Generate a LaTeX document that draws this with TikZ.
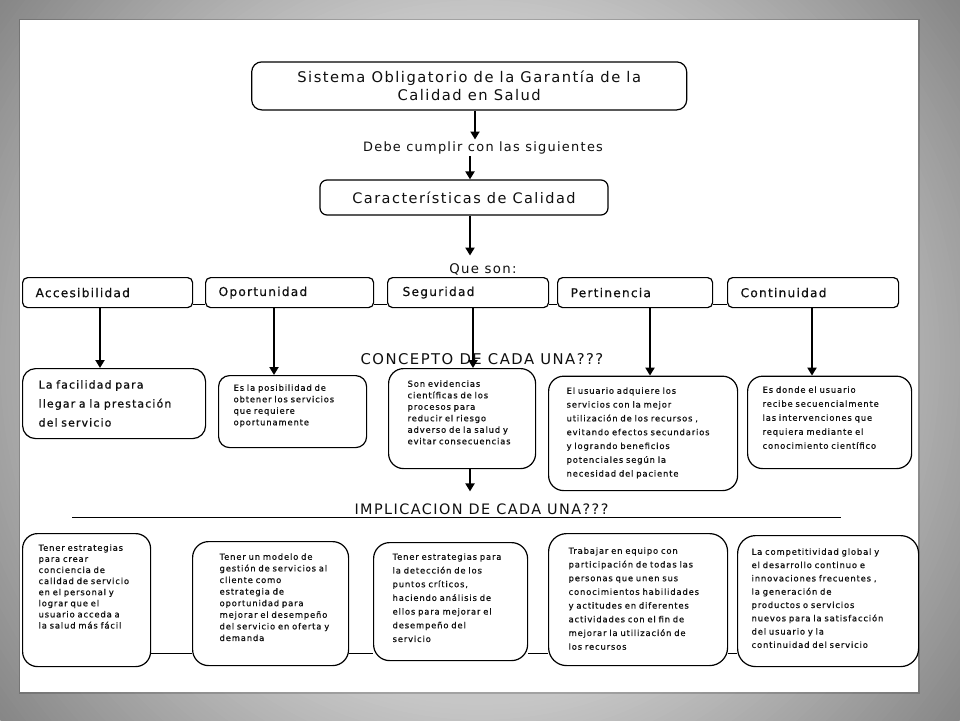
\documentclass[tikz,border=0pt]{standalone}
\usepackage{fontspec}
\setmainfont{DejaVu Sans}[LetterSpace=10]
\newfontfamily\semib{DejaVu Sans}[LetterSpace=10, FakeBold=0.6]
\usetikzlibrary{arrows.meta,backgrounds,calc}
\definecolor{bgD}{RGB}{134,134,134}
\definecolor{ink}{RGB}{15,15,15}
\newcommand{\bxt}[4]{\vbox to #1{\leftskip=#3\relax\vskip#2\relax\noindent #4\par\vfill}}
\tikzset{
  bx/.style={draw=black, line width=1.2pt, fill=white, rounded corners=#1, text=ink},
  bx/.default=12pt,
  chbox/.style={bx=5pt, minimum height=30pt, inner ysep=0pt, align=left, anchor=north west, font=\semib\fontsize{12.2}{14}\selectfont},
  cbox/.style={bx=13pt, inner sep=0pt, align=left, anchor=north west, font=\semib\fontsize{8.4}{11.5}\selectfont},
  lbl/.style={inner sep=2pt, text=ink},
  arr/.style={line width=2.4pt, draw=black, -{Triangle[width=9pt,length=8pt]}},
  link/.style={draw=black, line width=1pt}
}
\begin{document}
\begin{tikzpicture}[x=1pt,y=-1pt]
\useasboundingbox (0,0) rectangle (960,720);
\begin{pgfonlayer}{background}
\begin{scope}
\clip (0,0) rectangle (960,720);
\fill[bgD] (0,0) rectangle (960,720);
\foreach \r in {600,595,...,330}{
  \pgfmathtruncatemacro{\g}{min(198,195-(\r-360)*0.25)}
  \fill[color={rgb,255:red,\g;green,\g;blue,\g}] (480,360) circle (\r);
}
\end{scope}
\draw[black, opacity=0.18, line width=3pt] (20,20) rectangle (918,692);
\fill[white] (20,20) rectangle (918,692);
\end{pgfonlayer}

% top part
\node[bx=10pt, minimum width=435pt, minimum height=48pt, align=center, inner sep=0pt,
      font=\fontsize{14.7}{18.3}\selectfont] (top) at (469.2,85.9)
  {Sistema Obligatorio de la Garantía de la\\Calidad en Salud};
\node[lbl, anchor=base, font=\fontsize{12.9}{15}\selectfont] (debe) at (483,151.5) {Debe cumplir con las siguientes};
\node[bx=7pt, minimum width=288pt, minimum height=35pt, inner sep=0pt,
      font=\fontsize{14.5}{17}\selectfont] (car) at (464,197.5) {Características de Calidad};
\node[lbl, anchor=base, font=\fontsize{13.3}{15}\selectfont] (queson) at (483,273.6) {Que son:};

% characteristics
\node[chbox, text width=144pt, inner xsep=13pt] (acc) at (22,277) {Accesibilidad};
\node[chbox, text width=142pt, inner xsep=13pt] (opo) at (205,277) {Oportunidad};
\node[chbox, text width=131pt, inner xsep=15pt] (seg) at (387,277) {Seguridad};
\node[chbox, text width=129pt, inner xsep=13pt] (per) at (557,277) {Pertinencia};
\node[chbox, text width=145pt, inner xsep=13pt] (con) at (727,277) {Continuidad};

\node[lbl, anchor=base, font=\fontsize{14.8}{16}\selectfont] (conc) at (482,364.4) {CONCEPTO DE CADA UNA???};

% concept boxes
\node[cbox, text width=183pt, font=\semib\fontsize{11}{19}\selectfont] (c1) at (22,368)
  {\bxt{70pt}{11.6pt}{16pt}{La facilidad para\\llegar a la prestación\\del servicio}};
\node[cbox, text width=148pt, bx=11pt] (c2) at (218,375)
  {\bxt{72pt}{8.8pt}{15pt}{Es la posibilidad de\\obtener los servicios\\que requiere\\oportunamente}};
\node[cbox, text width=147pt, bx=15pt] (c3) at (388,368)
  {\bxt{100pt}{11.8pt}{19pt}{Son evidencias\\científicas de los\\procesos para\\reducir el riesgo\\adverso de la salud y\\evitar consecuencias}};
\node[cbox, text width=189pt, bx=15pt, font=\semib\fontsize{8.4}{13.8}\selectfont] (c4) at (548,375.6)
  {\bxt{114.4pt}{11.2pt}{18pt}{El usuario adquiere los\\servicios con la mejor\\utilización de los recursos ,\\evitando efectos secundarios\\y logrando beneficios\\potenciales según la\\necesidad del paciente}};
\node[cbox, text width=164pt, bx=15pt, font=\semib\fontsize{8.4}{14}\selectfont] (c5) at (747,375.6)
  {\bxt{92.4pt}{10.2pt}{15pt}{Es donde el usuario\\recibe secuencialmente\\las intervenciones que\\requiera mediante el\\conocimiento científico}};

\node[lbl, anchor=base, font=\fontsize{14.4}{16}\selectfont] (impl) at (481.5,514.3) {IMPLICACION DE CADA UNA???};
\coordinate (ul1) at (72,517.5);
\coordinate (ul2) at (841,517.5);
\draw[link] (ul1) -- (ul2);

% implication boxes
\node[cbox, text width=128pt, bx=15pt, font=\semib\fontsize{8.4}{11.1}\selectfont] (i1) at (22,533)
  {\bxt{133pt}{10.8pt}{16pt}{Tener estrategias\\para crear\\conciencia de\\calidad de servicio\\en el personal y\\lograr que el\\usuario acceda a\\la salud más fácil}};
\node[cbox, text width=156pt, bx=16pt, font=\semib\fontsize{8.4}{11.6}\selectfont] (i2) at (192,541)
  {\bxt{124pt}{11.8pt}{27pt}{Tener un modelo de\\gestión de servicios al\\cliente como\\estrategia de\\oportunidad para\\mejorar el desempeño\\del servicio en oferta y\\demanda}};
\node[cbox, text width=154pt, bx=16pt, font=\semib\fontsize{8.4}{13.7}\selectfont] (i3) at (373,542)
  {\bxt{118pt}{10.8pt}{19pt}{Tener estrategias para\\la detección de los\\puntos críticos,\\haciendo análisis de\\ellos para mejorar el\\desempeño del\\servicio}};
\node[cbox, text width=179pt, bx=18pt, font=\semib\fontsize{8.4}{13.7}\selectfont] (i4) at (548,533)
  {\bxt{132pt}{13.8pt}{20pt}{Trabajar en equipo con\\participación de todas las\\personas que unen sus\\conocimientos habilidades\\y actitudes en diferentes\\actividades con el fin de\\mejorar la utilización de\\los recursos}};
\node[cbox, text width=181pt, bx=18pt, font=\semib\fontsize{8.4}{13.3}\selectfont] (i5) at (737,535)
  {\bxt{131pt}{12.8pt}{14pt}{La competitividad global y\\el desarrollo continuo e\\innovaciones frecuentes ,\\la generación de\\productos o servicios\\nuevos para la satisfacción\\del usuario y la\\continuidad del servicio}};

% links behind boxes
\coordinate (ytop) at (0,304);
\coordinate (ybot) at (0,653);
\begin{pgfonlayer}{background}
\draw[link] (acc.east |- ytop) -- (opo.west |- ytop);
\draw[link] (opo.east |- ytop) -- (seg.west |- ytop);
\draw[link] (seg.east |- ytop) -- (per.west |- ytop);
\draw[link] (per.east |- ytop) -- (con.west |- ytop);
\draw[link] (i1.east |- ybot) -- (i2.west |- ybot);
\draw[link] (i2.east |- ybot) -- (i3.west |- ybot);
\draw[link] (i3.east |- ybot) -- (i4.west |- ybot);
\draw[link] (i4.east |- ybot) -- (i5.west |- ybot);
\end{pgfonlayer}

% arrows
\coordinate (xt) at (475,0);
\coordinate (xm) at (470,0);
\coordinate (xa) at (100,0);
\coordinate (xo) at (274,0);
\coordinate (xs) at (473,0);
\coordinate (xp) at (650,0);
\coordinate (xc) at (812,0);
\draw[arr] (top.south -| xt) -- (debe.north -| xt);
\draw[arr] (debe.south -| xm) -- (car.north -| xm);
\draw[arr, shorten >=6pt] (car.south -| xm) -- (queson.north -| xm);
\draw[arr] (acc.south -| xa) -- (c1.north -| xa);
\draw[arr] (opo.south -| xo) -- (c2.north -| xo);
\draw[arr] (seg.south -| xs) -- (c3.north -| xs);
\draw[arr] (per.south -| xp) -- (c4.north -| xp);
\draw[arr] (con.south -| xc) -- (c5.north -| xc);
\draw[arr, shorten >=10pt] (c3.south -| xm) -- (impl.north -| xm);
\end{tikzpicture}
\end{document}
